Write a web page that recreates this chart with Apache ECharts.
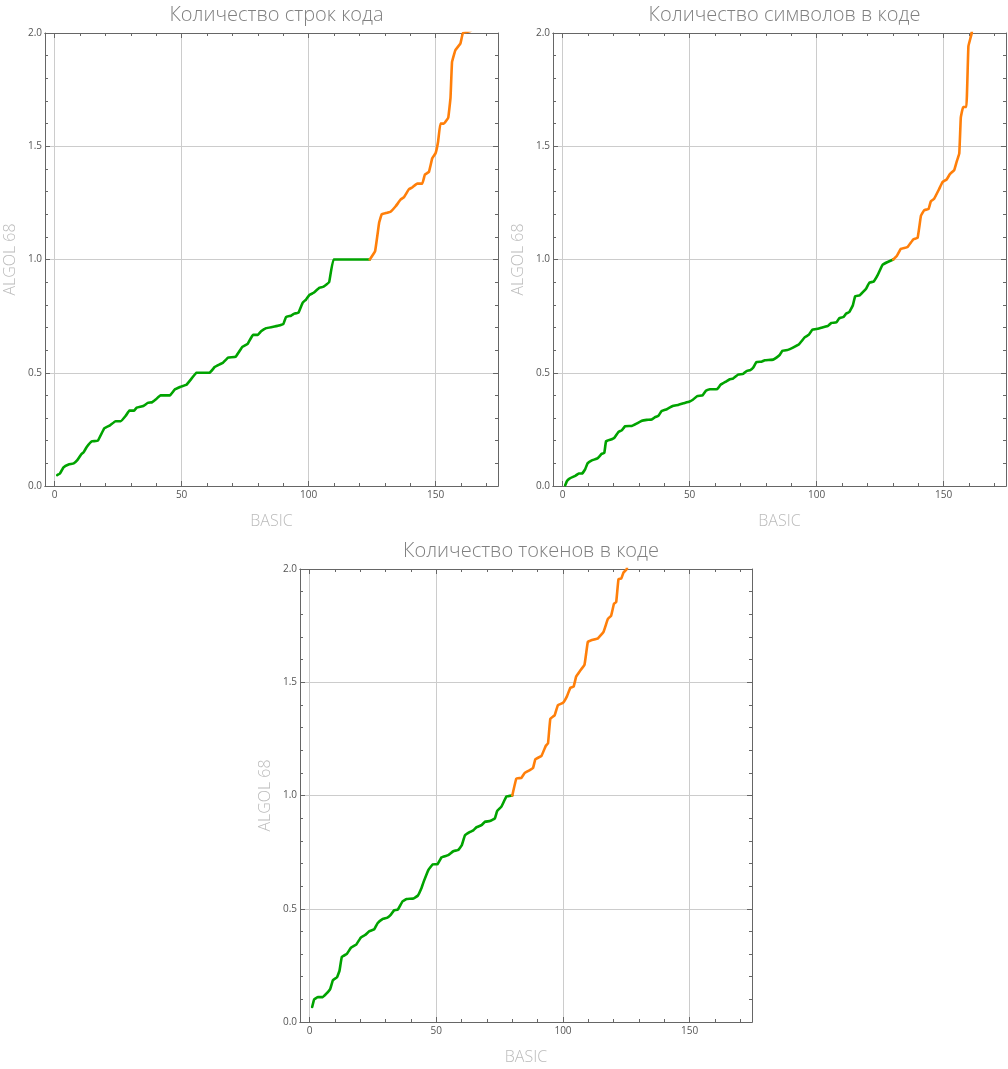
<!DOCTYPE html>
<html>
<head>
<meta charset="utf-8">
<script src="https://cdn.jsdelivr.net/npm/echarts@6/dist/echarts.min.js"></script>
<style>html,body{margin:0;padding:0;background:#fff}#c{width:1008px;height:1069px}</style>
</head>
<body>
<div id="c"></div>
<script>
// ---- data ----
const titles = ["Количество строк кода", "Количество символов в коде", "Количество токенов в коде"];
const xName = "BASIC";
const yName = "ALGOL 68";
const xMajorTicks = [0, 50, 100, 150];
const xMinorTicks = [10, 20, 30, 40, 60, 70, 80, 90, 110, 120, 130, 140, 160, 170];
const threshold = 1.0;

const linesX = [1,2,3.5,5.5,7.5,9,10.5,11.4,12.7,14.6,17,19.5,21.8,24,26,28,29.4,31.3,32.3,34.9,36.7,38.4,39.9,41.7,45.4,47.2,49.6,51.9,53.9,55.8,61,63,65,66.3,68.3,71.3,73.9,76.1,78.1,80,81.3,83.3,85.7,87.9,90.1,91.1,93.1,94.4,96,97.7,99,100.3,102,104.2,105.9,108.1,109.9,124.1,126.2,127.8,128.8,130.4,132.3,134.3,136.3,137.6,139.5,140.8,142.8,144.8,145.8,147.4,148.7,150,151,151.9,153.3,155,155.9,156.5,157.8,159.8,160.8,164,166];
const linesY = [0.048,0.054,0.082,0.095,0.10,0.115,0.14,0.149,0.173,0.197,0.20,0.254,0.268,0.286,0.286,0.31,0.333,0.333,0.346,0.353,0.367,0.37,0.383,0.40,0.40,0.425,0.438,0.447,0.474,0.50,0.50,0.525,0.537,0.544,0.567,0.571,0.614,0.629,0.667,0.667,0.683,0.697,0.702,0.707,0.716,0.746,0.752,0.761,0.765,0.81,0.823,0.843,0.853,0.875,0.88,0.90,1.0,1.0,1.037,1.163,1.20,1.205,1.211,1.235,1.265,1.275,1.31,1.318,1.335,1.335,1.375,1.387,1.447,1.469,1.52,1.60,1.60,1.626,1.715,1.872,1.924,1.954,2.0,2.01,2.3];

const charsX = [1,1.7,2.7,5,6.3,7.6,8.9,9.8,11.5,13.7,15.4,16.4,17.1,18.7,20.3,22,23.3,24.6,27.2,28.9,31.2,33.1,35.1,36.4,37.7,39,41,43.3,45.5,47.5,50,51.4,53,55.1,56.4,58,60.9,62.2,64.5,65.8,67.1,69.1,71.1,72.4,73.9,75,76.3,78.3,79.6,82.9,84.2,85.5,86.5,88.7,90.7,93.1,95.3,97,98.3,100.5,102.5,104.5,105.8,107.7,109,110.6,111.6,112.9,114.3,115.2,116.9,119.5,120.8,122.4,124.1,126,128,130.2,131.5,133.2,135.8,138.1,139.8,141.1,142.4,144.1,145,146.3,148.3,149.6,151.2,152.5,154.2,155.1,156.2,156.8,157.7,159,159.8,161.1,163];
const charsY = [0.003,0.022,0.033,0.045,0.055,0.055,0.075,0.10,0.113,0.122,0.142,0.146,0.198,0.204,0.212,0.239,0.246,0.264,0.265,0.274,0.288,0.292,0.294,0.304,0.31,0.331,0.339,0.353,0.358,0.365,0.373,0.382,0.397,0.40,0.42,0.427,0.428,0.447,0.462,0.471,0.474,0.492,0.495,0.507,0.512,0.522,0.547,0.549,0.555,0.558,0.567,0.579,0.597,0.601,0.611,0.626,0.656,0.668,0.69,0.694,0.701,0.707,0.72,0.722,0.741,0.746,0.761,0.768,0.798,0.838,0.841,0.871,0.898,0.902,0.932,0.977,0.989,1.0,1.014,1.047,1.055,1.089,1.096,1.193,1.218,1.223,1.257,1.268,1.312,1.342,1.353,1.377,1.395,1.429,1.469,1.626,1.673,1.673,1.942,2.0,2.3];

const tokensX = [1,1.8,3.3,5.2,6.6,8.1,9.2,10.8,11.8,12.7,14.7,16.3,18.4,20.2,21.9,23.6,25.5,26.8,28.9,30.7,32,33.3,34.8,36.7,38.3,41,42.7,44.2,45.1,46.9,48.6,50.5,52.1,54.7,56.7,58.7,60,61.3,63.3,64.6,65.9,67.8,69.2,71.1,73.1,74,75.7,77.7,80,81.6,83.6,84.9,86.9,88.2,89.1,91.5,93.2,94.1,95,96.7,98,100,101.6,102.9,104.2,105.2,106.6,108.5,109.8,111.2,113.8,116,117.7,119,120.1,121,121.9,123,123.9,125.2,127];
const tokensY = [0.066,0.10,0.11,0.11,0.125,0.145,0.185,0.197,0.227,0.287,0.301,0.328,0.342,0.373,0.384,0.401,0.409,0.436,0.455,0.461,0.473,0.493,0.496,0.533,0.543,0.545,0.558,0.593,0.622,0.672,0.696,0.697,0.727,0.737,0.754,0.76,0.779,0.824,0.839,0.846,0.86,0.869,0.884,0.887,0.899,0.931,0.951,0.996,1.0,1.075,1.078,1.10,1.112,1.122,1.16,1.175,1.219,1.231,1.339,1.354,1.399,1.409,1.439,1.476,1.481,1.525,1.548,1.578,1.678,1.685,1.694,1.722,1.779,1.794,1.846,1.854,1.955,1.958,1.985,2.0,2.3];

const seriesX = [linesX, charsX, tokensX];
const seriesY = [linesY, charsY, tokensY];

// ---- layout / style ----
const grids = [
  {left: 45, top: 33, width: 453, height: 453},
  {left: 553, top: 33, width: 453, height: 453},
  {left: 300, top: 569, width: 452, height: 453}
];
const X_MIN = -3.8, X_MAX = 174.6;
const FRAME = '#666666', GRIDC = '#cccccc', LABELC = '#555555', NAMEC = '#bbbbbb', TITLEC = '#808080';
const GREEN = '#00a300', ORANGE = '#ff7f0a';
const FONT = 'Open Sans';

const xAxes = [], yAxes = [], series = [], titleOpts = [];
grids.forEach((g, i) => {
  const base = {type: 'value', gridIndex: i, min: X_MIN, max: X_MAX,
    axisLine: {show: true, onZero: false, lineStyle: {color: FRAME, width: 1}}};
  xAxes.push(Object.assign({}, base, {
    position: 'bottom', name: xName, nameLocation: 'middle', nameGap: 27,
    nameTextStyle: {color: NAMEC, fontSize: 16, fontFamily: FONT, fontWeight: 300},
    axisTick: {show: true, inside: true, length: 5, customValues: xMajorTicks, lineStyle: {color: FRAME}},
    axisLabel: {show: true, customValues: xMajorTicks, color: LABELC, fontSize: 10, fontFamily: FONT, margin: 4},
    splitLine: {show: true, lineStyle: {color: GRIDC, width: 1}},
    minorTick: {show: false}
  }));
  xAxes.push(Object.assign({}, base, {
    position: 'bottom',
    axisTick: {show: true, inside: true, length: 3, customValues: xMinorTicks, lineStyle: {color: FRAME}},
    axisLabel: {show: false}, splitLine: {show: false}
  }));
  xAxes.push(Object.assign({}, base, {
    position: 'top',
    axisTick: {show: true, inside: true, length: 5, customValues: xMajorTicks, lineStyle: {color: FRAME}},
    axisLabel: {show: false}, splitLine: {show: false}
  }));
  xAxes.push(Object.assign({}, base, {
    position: 'top',
    axisTick: {show: true, inside: true, length: 3, customValues: xMinorTicks, lineStyle: {color: FRAME}},
    axisLabel: {show: false}, splitLine: {show: false}
  }));
  const ybase = {type: 'value', gridIndex: i, min: 0, max: 2, interval: 0.5,
    axisLine: {show: true, onZero: false, lineStyle: {color: FRAME, width: 1}},
    axisTick: {show: true, inside: true, length: 5, lineStyle: {color: FRAME}},
    minorTick: {show: true, splitNumber: 5, length: 3, lineStyle: {color: FRAME}}};
  yAxes.push(Object.assign({}, ybase, {
    position: 'left', name: yName, nameLocation: 'middle', nameGap: 27,
    nameTextStyle: {color: NAMEC, fontSize: 16, fontFamily: FONT, fontWeight: 300},
    axisLabel: {show: true, color: LABELC, fontSize: 10, fontFamily: FONT, margin: 3,
      formatter: v => v.toFixed(1)},
    splitLine: {show: true, lineStyle: {color: GRIDC, width: 1}}
  }));
  yAxes.push(Object.assign({}, ybase, {
    position: 'right', axisLabel: {show: false}, splitLine: {show: false}
  }));

  const xs = seriesX[i], ys = seriesY[i];
  let cut = ys.findIndex(v => v > threshold);
  if (cut < 0) cut = ys.length;
  const pts = xs.map((x, k) => [x, ys[k]]);
  const lowPart = pts.slice(0, cut);
  const highPart = pts.slice(Math.max(cut - 1, 0));
  const common = {type: 'line', xAxisIndex: i * 4, yAxisIndex: i * 2,
    showSymbol: false, symbol: 'none', smooth: 0.08, clip: true,
    silent: true, animation: false, z: 5};
  series.push(Object.assign({}, common, {data: lowPart,
    lineStyle: {width: 2.6, color: GREEN, cap: 'round', join: 'round'}, itemStyle: {color: GREEN}}));
  series.push(Object.assign({}, common, {data: highPart,
    lineStyle: {width: 2.6, color: ORANGE, cap: 'round', join: 'round'}, itemStyle: {color: ORANGE}}));

  titleOpts.push({
    text: titles[i], left: g.left + g.width / 2, top: g.top - 33, textAlign: 'center',
    textStyle: {color: TITLEC, fontSize: 20, fontWeight: 300, fontFamily: FONT}
  });
});

const chart = echarts.init(document.getElementById('c'), null, {renderer: 'canvas'});
chart.setOption({
  animation: false,
  backgroundColor: '#ffffff',
  title: titleOpts,
  grid: grids,
  xAxis: xAxes,
  yAxis: yAxes,
  series: series
});
</script>
</body>
</html>
